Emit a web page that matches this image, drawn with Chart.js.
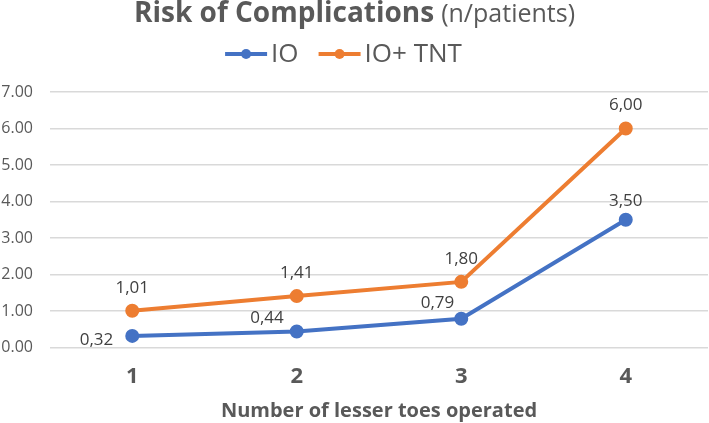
<!DOCTYPE html>
<html>
<head>
<meta charset="utf-8">
<script src="https://cdn.jsdelivr.net/npm/chart.js@4/dist/chart.umd.min.js"></script>
<style>
  html, body { margin: 0; padding: 0; background: #fff; overflow: hidden; }
  #wrap { width: 717px; height: 423px; position: relative; }
  canvas { display: block; }
</style>
</head>
<body>
<div id="wrap"><canvas id="line-chart"></canvas></div>
<script>
// Risk of complications chart

var categories = ["1", "2", "3", "4"];
var ioValues = [0.32, 0.44, 0.79, 3.50];
var ioTntValues = [1.01, 1.41, 1.80, 6.00];
var yTicks = [0, 1, 2, 3, 4, 5, 6, 7];

var FONT = "'Open Sans', sans-serif";
var GREY = "#595959";
var BLUE = "#4472C4";
var ORANGE = "#ED7D31";
var PAGE_W = 709;

// label placement for the IO series: [dx, dy, align]
var ioLabelPos = [[-19, 4, "right"], [-13, -13, "right"], [-7, -16, "right"], [0, -19, "center"]];

function fmt(v) {
    return v.toFixed(2).replace(".", ",");
}

// title with two styles + legend with line and dot
var headerPlugin = {
    id: "header",
    afterDraw: function (chart) {
        var ctx = chart.ctx;
        var cx = PAGE_W / 2;
        ctx.save();
        ctx.textBaseline = "middle";
        ctx.fillStyle = GREY;
        ctx.textAlign = "left";

        var t1 = "Risk of Complications";
        var t2 = "(n/patients)";
        ctx.font = "bold 28px " + FONT;
        var w1 = ctx.measureText(t1).width;
        ctx.font = "25px " + FONT;
        var w2 = ctx.measureText(t2).width;
        var x0 = cx - (w1 + 7 + w2) / 2;
        ctx.font = "bold 28px " + FONT;
        ctx.fillText(t1, x0, 14);
        ctx.font = "25px " + FONT;
        ctx.fillText(t2, x0 + w1 + 7, 15);

        // legend
        var items = chart.data.datasets;
        ctx.font = "26px " + FONT;
        var lineW = 42, gap = 4, itemGap = 20;
        var total = 0;
        items.forEach(function (ds, i) {
            total += lineW + gap + ctx.measureText(ds.label).width;
            if (i < items.length - 1) total += itemGap;
        });
        var x = cx - 11 - total / 2;
        var y = 54;
        items.forEach(function (ds) {
            ctx.strokeStyle = ds.borderColor;
            ctx.lineWidth = 4;
            ctx.beginPath();
            ctx.moveTo(x, y);
            ctx.lineTo(x + lineW, y);
            ctx.stroke();
            ctx.fillStyle = ds.borderColor;
            ctx.beginPath();
            ctx.arc(x + lineW / 2, y, 5, 0, Math.PI * 2);
            ctx.fill();
            ctx.fillStyle = GREY;
            ctx.fillText(ds.label, x + lineW + gap, y + 1);
            x += lineW + gap + ctx.measureText(ds.label).width + itemGap;
        });
        ctx.restore();
    }
};

// value labels, comma decimals
var valueLabels = {
    id: "valueLabels",
    afterDatasetsDraw: function (chart) {
        var ctx = chart.ctx;
        ctx.save();
        ctx.font = "17px " + FONT;
        ctx.fillStyle = "#404040";
        ctx.textBaseline = "middle";
        chart.data.datasets.forEach(function (ds, di) {
            var meta = chart.getDatasetMeta(di);
            meta.data.forEach(function (pt, i) {
                var txt = fmt(ds.data[i]);
                if (di === 0) {
                    var p = ioLabelPos[i];
                    ctx.textAlign = p[2];
                    ctx.fillText(txt, pt.x + p[0], pt.y + p[1]);
                } else {
                    ctx.textAlign = "center";
                    ctx.fillText(txt, pt.x, pt.y - 23);
                }
            });
        });
        ctx.restore();
    }
};

new Chart(document.getElementById("line-chart"), {
    type: "line",
    data: {
        labels: categories,
        datasets: [
            {
                label: "IO",
                data: ioValues,
                borderColor: BLUE,
                backgroundColor: BLUE,
                borderWidth: 4,
                pointRadius: 5,
                pointHoverRadius: 5,
                tension: 0
            },
            {
                label: "IO+ TNT",
                data: ioTntValues,
                borderColor: ORANGE,
                backgroundColor: ORANGE,
                borderWidth: 4,
                pointRadius: 5,
                pointHoverRadius: 5,
                tension: 0
            }
        ]
    },
    options: {
        responsive: true,
        maintainAspectRatio: false,
        animation: false,
        layout: { padding: { top: 92, right: 2, bottom: 0, left: 0 } },
        plugins: {
            legend: { display: false },
            title: { display: false },
            tooltip: { enabled: false }
        },
        scales: {
            x: {
                offset: true,
                grid: { display: false, drawTicks: false },
                border: { display: false },
                ticks: {
                    color: GREY,
                    font: { family: FONT, size: 22, weight: "bold" },
                    padding: 16
                },
                title: {
                    display: true,
                    text: "Number of lesser toes operated",
                    color: GREY,
                    font: { family: FONT, size: 20, weight: "bold" },
                    padding: { top: -7, bottom: 0 }
                }
            },
            y: {
                min: 0,
                max: 7,
                afterBuildTicks: function (axis) {
                    axis.ticks = yTicks.map(function (v) { return { value: v }; });
                },
                afterFit: function (axis) {
                    axis.width = 50;
                },
                grid: { color: "#d9d9d9", lineWidth: 1.5, drawTicks: false },
                border: { display: false },
                ticks: {
                    color: GREY,
                    font: { family: FONT, size: 16 },
                    padding: 17,
                    callback: function (v) { return Number(v).toFixed(2); }
                }
            }
        }
    },
    plugins: [headerPlugin, valueLabels]
});
</script>
</body>
</html>
